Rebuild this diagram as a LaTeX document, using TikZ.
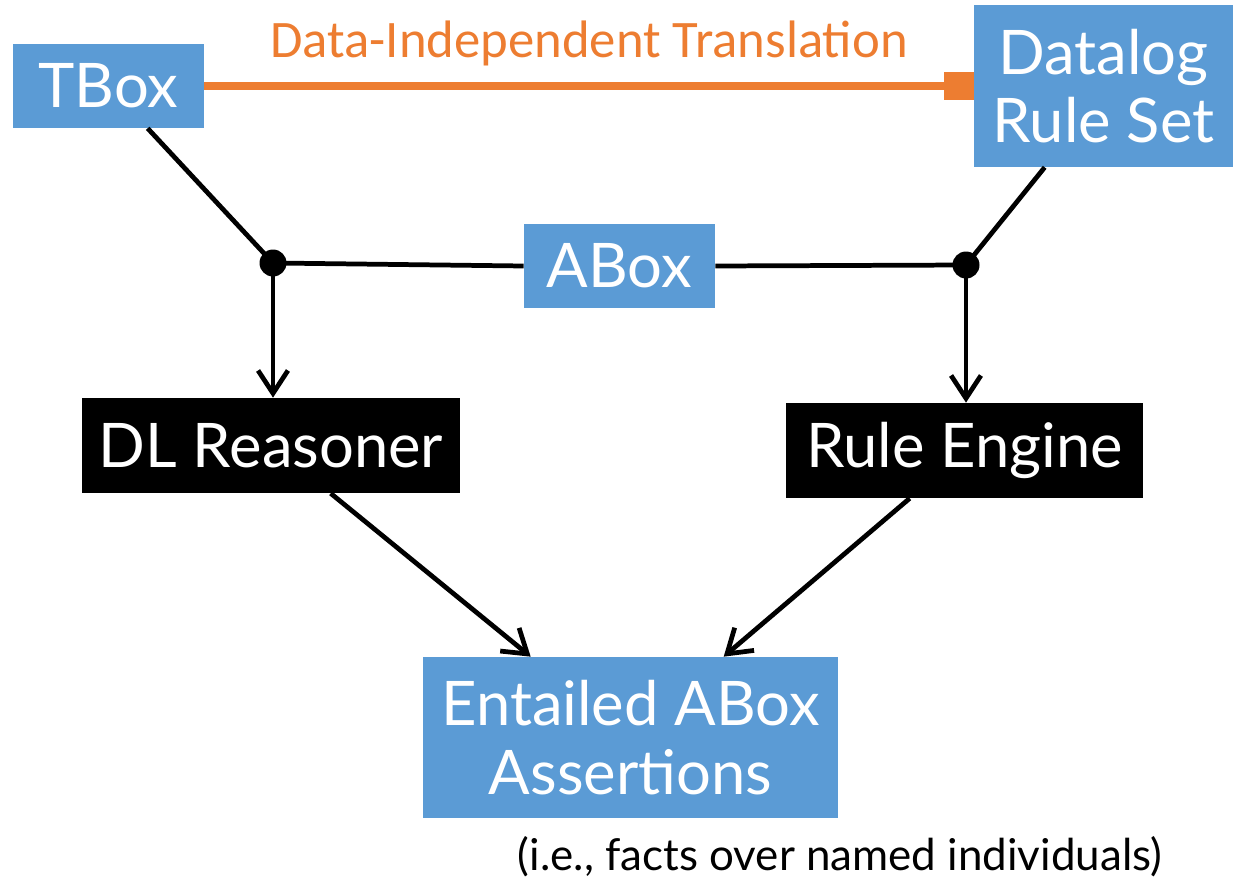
\documentclass[tikz,border=0pt]{standalone}
\usepackage{fontspec}
\setmainfont{Lato}
\newfontfamily\labelfont{Carlito}
\usetikzlibrary{arrows.meta,calc}
\definecolor{boxblue}{HTML}{5B9BD5}
\definecolor{transorange}{HTML}{ED7D31}
\tikzset{
  bluebox/.style={fill=boxblue, text=white, inner sep=0pt, align=center,
    font=\fontsize{35}{39}\selectfont},
  blackbox/.style={fill=black, text=white, inner sep=0pt, align=center,
    font=\fontsize{35}{39}\selectfont},
  junction/.style={circle, fill=black, inner sep=0pt, minimum size=0.54cm},
  wire/.style={line width=2.7pt, black},
  flow/.style={wire, -{Straight Barb[length=13pt,width=17pt,line width=2.7pt]}},
  translation/.style={line width=4pt, transorange,
    -{Square[length=17pt,width=16.5pt]}}
}
\begin{document}
\begin{tikzpicture}[x=0.02cm, y=-0.02cm]
  \useasboundingbox (0,0) rectangle (1238,882);

  % knowledge sources
  \node[bluebox, minimum width=3.82cm, minimum height=1.68cm] (tbox) at (108.5,86) {TBox};
  \node[bluebox, minimum width=5.18cm, minimum height=3.24cm] (datalog) at (1103.5,86) {Datalog\\Rule Set};
  \node[bluebox, minimum width=3.82cm, minimum height=1.68cm] (abox) at (619.5,266) {ABox};

  % reasoners
  \node[blackbox, minimum width=7.56cm, minimum height=1.9cm] (dl) at (271,445.5) {DL Reasoner};
  \node[blackbox, minimum width=7.14cm, minimum height=1.9cm] (re) at (964.5,450.5) {Rule Engine};

  % result
  \node[bluebox, minimum width=8.3cm, minimum height=3.22cm] (ent) at (630.5,737.5) {Entailed ABox\\Assertions};
  \node[font=\fontsize{25}{29}\selectfont] (note) at (840,857) {(i.e., facts over named individuals)};

  % junctions where the ABox meets each schema
  \node[junction] (jl) at (273,263) {};
  \node[junction] (jr) at (966,265) {};

  % translation of the TBox into rules
  \draw[translation] (tbox.east) -- (datalog.west)
    node[midway, above=6pt, font=\labelfont\fontsize{30}{34}\selectfont, text=transorange] (translabel) {Data-Independent Translation};

  % inputs to the junctions
  \draw[wire] ($(tbox.south west)+(135,0)$) -- (jl.center);
  \draw[wire] ($(datalog.south west)+(71,0)$) -- (jr.center);
  \draw[wire] (jl.center) -- (abox.west);
  \draw[wire] (abox.east) -- (jr.center);

  % junctions feed the reasoners
  \draw[flow] (jl.center) -- (jl.center |- dl.north);
  \draw[flow] (jr.center) -- (jr.center |- re.north);

  % reasoners produce entailments
  \draw[flow] ($(dl.south west)+(249,0)$) -- ($(ent.north west)+(108,0)$);
  \draw[flow] ($(re.south west)+(124,0)$) -- ($(ent.north west)+(301,0)$);
\end{tikzpicture}
\end{document}
